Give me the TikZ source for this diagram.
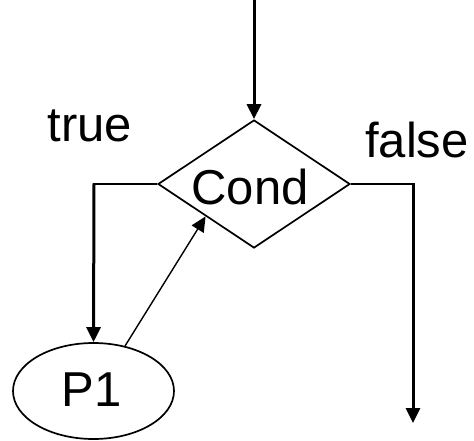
\documentclass[tikz,border=0pt]{standalone}
\usepackage{fontspec}
\setmainfont{Liberation Sans}
\usetikzlibrary{shapes.geometric,arrows.meta,calc}
\begin{document}
\begin{tikzpicture}[x=1pt,y=-1pt,
  every node/.style={font=\fontsize{49}{58}\selectfont},
  tip/.style={-{Triangle[width=14pt,length=15pt]}},
  vline/.style={line width=3pt},
  hline/.style={line width=2pt},
  decision/.style={draw,diamond,line width=1.7pt,inner sep=0pt,
    minimum width=192pt,minimum height=128pt,shape aspect=1.5},
  process/.style={draw,ellipse,line width=1.7pt,inner sep=0pt,
    minimum width=161pt,minimum height=96pt},
  lbl/.style={anchor=base,inner sep=0pt}]
  \useasboundingbox (0,0) rectangle (474,440);

  % decision and process shapes
  \node[decision] (cond) at (254,184) {};
  \node[inner sep=0pt] (condtext) at (250,187) {Cond};
  \node[process] (p1) at (93.5,391) {};
  \node[inner sep=0pt] (p1text) at (91.5,390) {P1};

  % branch labels
  \node[lbl] (ltrue) at (90,141) {true};
  \node[lbl] (lfalse) at (417,157) {false};

  % helper points
  \coordinate (entry) at (254,0);
  \coordinate (tcorner) at (94,184);
  \coordinate (fcorner) at (413,184);
  \coordinate (fexit) at (413,423);
  \coordinate (back) at ($(cond.west)!0.5!(cond.south)$);

  % incoming flow
  \draw[vline,tip] (entry) -- (cond.north);

  % true branch into P1
  \draw[hline] (cond.west) -- (tcorner);
  \draw[vline,tip,shorten <=-1pt] (tcorner) -- (p1.north);

  % loop back from P1 to the condition
  \draw[line width=1.4pt,tip] (p1.55) -- (back);

  % false branch leaving the loop
  \draw[hline] (cond.east) -- (fcorner);
  \draw[vline,tip,shorten <=-1pt] (fcorner) -- (fexit);
\end{tikzpicture}
\end{document}
